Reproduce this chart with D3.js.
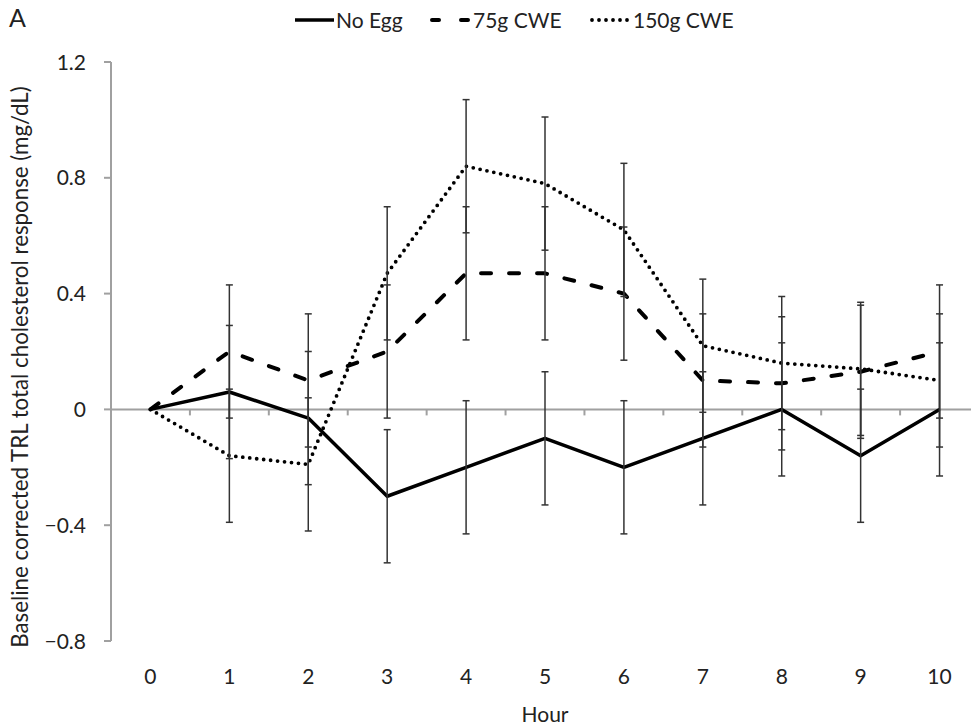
<!DOCTYPE html>
<html>
<head>
<meta charset="utf-8">
<script src="https://cdn.jsdelivr.net/npm/d3@7"></script>
<style>
  body { margin: 0; background: #fff; }
  text { font-family: Lato, "Open Sans", sans-serif; fill: #222; }
</style>
</head>
<body>
<div id="chart"></div>
<script>
// values
let hours = [0, 1, 2, 3, 4, 5, 6, 7, 8, 9, 10];
let noEgg = [0, 0.06, -0.03, -0.30, -0.20, -0.10, -0.20, -0.10, 0, -0.16, 0];
let cwe75 = [0, 0.20, 0.10, 0.20, 0.47, 0.47, 0.40, 0.10, 0.09, 0.13, 0.20];
let cwe150 = [0, -0.16, -0.19, 0.47, 0.84, 0.78, 0.62, 0.22, 0.16, 0.14, 0.10];
let errNoEgg = [0, 0.23, 0.23, 0.23, 0.23, 0.23, 0.23, 0.23, 0.23, 0.23, 0.23];
let err75 = [0, 0.23, 0.23, 0.23, 0.23, 0.23, 0.23, 0.23, 0.23, 0.23, 0.23];
let err150 = [0, 0.23, 0.23, 0.23, 0.23, 0.23, 0.23, 0.23, 0.23, 0.23, 0.23];
let yTicks = [-0.8, -0.4, 0, 0.4, 0.8, 1.2];
let seriesNames = ["No Egg", "75g CWE", "150g CWE"];

let width = 971, height = 727;

let svg = d3.select("#chart").append("svg")
  .attr("width", width)
  .attr("height", height);

let x = d3.scalePoint().domain(hours).range([111, 979]).padding(0.5);
let y = d3.scaleLinear().domain([-0.8, 1.2]).range([641, 62]);
let step = x.step();

let axisColor = "#a0a0a0";

// y axis
svg.append("line")
  .attr("x1", 111).attr("x2", 111)
  .attr("y1", y(1.2)).attr("y2", y(-0.8))
  .attr("stroke", axisColor).attr("stroke-width", 2);

svg.selectAll(".ytick").data(yTicks).enter().append("line")
  .attr("x1", 104).attr("x2", 111)
  .attr("y1", d => y(d)).attr("y2", d => y(d))
  .attr("stroke", axisColor).attr("stroke-width", 2);

svg.selectAll(".ylab").data(yTicks).enter().append("text")
  .attr("x", 86).attr("y", d => y(d))
  .attr("dy", "0.36em")
  .attr("text-anchor", "end")
  .style("font-size", "21px")
  .text(d => d == 0 ? "0" : d3.format(".1f")(d));

// x axis sits at zero, labels at the bottom
svg.append("line")
  .attr("x1", 111).attr("x2", 979)
  .attr("y1", y(0)).attr("y2", y(0))
  .attr("stroke", axisColor).attr("stroke-width", 2);

svg.selectAll(".xtick").data(hours.slice(1)).enter().append("line")
  .attr("x1", d => x(d) - step / 2).attr("x2", d => x(d) - step / 2)
  .attr("y1", y(0)).attr("y2", y(0) + 6)
  .attr("stroke", axisColor).attr("stroke-width", 2);

svg.selectAll(".xlab").data(hours).enter().append("text")
  .attr("x", d => x(d)).attr("y", 676)
  .attr("dy", "0.36em")
  .attr("text-anchor", "middle")
  .style("font-size", "21px")
  .text(d => d);

svg.append("text")
  .attr("x", 545).attr("y", 714)
  .attr("dy", "0.36em")
  .attr("text-anchor", "middle")
  .style("font-size", "21px")
  .text("Hour");

svg.append("text")
  .attr("transform", "translate(20," + 367 + ") rotate(-90)")
  .attr("dy", "0.36em")
  .attr("text-anchor", "middle")
  .style("font-size", "22.3px")
  .text("Baseline corrected TRL total cholesterol response (mg/dL)");

svg.append("text")
  .attr("x", 9).attr("y", 18)
  .attr("dy", "0.36em")
  .style("font-size", "25px")
  .text("A");

let styles = [
  { dash: null, cap: "butt", w: 3.5 },
  { dash: "10,18", cap: "round", w: 4 },
  { dash: "0,7", cap: "round", w: 3.8 }
];

let series = [
  { name: seriesNames[0], vals: noEgg, err: errNoEgg, st: styles[0] },
  { name: seriesNames[1], vals: cwe75, err: err75, st: styles[1] },
  { name: seriesNames[2], vals: cwe150, err: err150, st: styles[2] }
];

let line = d3.line()
  .x((d, i) => x(hours[i]))
  .y(d => y(d));

series.forEach(function(s) {
  svg.append("path")
    .datum(s.vals)
    .attr("d", line)
    .attr("fill", "none")
    .attr("stroke", "#000")
    .attr("stroke-width", s.st.w)
    .attr("stroke-linecap", s.st.cap)
    .attr("stroke-linejoin", "round")
    .attr("stroke-dasharray", s.st.dash);
});

// error bars on top
series.forEach(function(s) {
  let g = svg.append("g");
  let pts = s.vals.map((v, i) => ({ h: hours[i], v: v, e: s.err[i] })).filter(d => d.e > 0);
  g.selectAll(".bar").data(pts).enter().append("line")
    .attr("x1", d => x(d.h)).attr("x2", d => x(d.h))
    .attr("y1", d => y(d.v + d.e)).attr("y2", d => y(d.v - d.e))
    .attr("stroke", "#333").attr("stroke-width", 1.5);
  [1, -1].forEach(function(sign) {
    g.selectAll(".cap" + sign).data(pts).enter().append("line")
      .attr("x1", d => x(d.h) - 3.5).attr("x2", d => x(d.h) + 3.5)
      .attr("y1", d => y(d.v + sign * d.e)).attr("y2", d => y(d.v + sign * d.e))
      .attr("stroke", "#333").attr("stroke-width", 1.5);
  });
});

// legend
let legX = [295, 432, 592];
let legend = svg.selectAll(".leg").data(series).enter().append("g")
  .attr("transform", (d, i) => "translate(" + legX[i] + ",20)");
legend.append("line")
  .attr("x1", 0).attr("x2", 39)
  .attr("stroke", "#000")
  .attr("stroke-width", d => d.st.w)
  .attr("stroke-linecap", d => d.st.cap)
  .attr("stroke-dasharray", (d, i) => i == 1 ? "7,22" : d.st.dash);
legend.append("text")
  .attr("x", 41)
  .attr("dy", "0.36em")
  .style("font-size", "21px")
  .text(d => d.name);
</script>
</body>
</html>
